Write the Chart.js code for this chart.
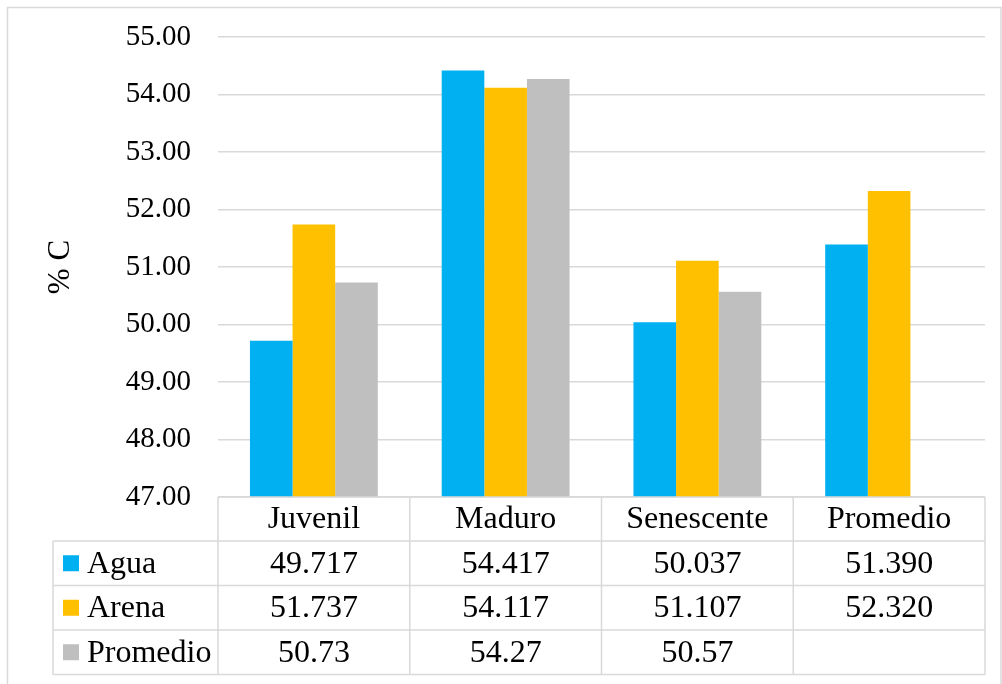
<!DOCTYPE html>
<html>
<head>
<meta charset="utf-8">
<script src="https://cdn.jsdelivr.net/npm/chart.js@4/dist/chart.umd.min.js"></script>
<style>
  html, body { margin: 0; padding: 0; background: #ffffff; }
  #wrap { width: 1002px; height: 684px; }
</style>
</head>
<body>
<div id="wrap"><canvas id="carbon-chart" width="1002" height="684"></canvas></div>
<script>
const categories = ["Juvenil", "Maduro", "Senescente", "Promedio"];
const seriesNames = ["Agua", "Arena", "Promedio"];
const aguaValues = [49.717, 54.417, 50.037, 51.390];
const arenaValues = [51.737, 54.117, 51.107, 52.320];
const promedioValues = [50.73, 54.27, 50.57, null];
const tableDecimals = [3, 3, 2];
const yTicks = [47, 48, 49, 50, 51, 52, 53, 54, 55];

const palette = {
  agua: "#00b0f0",
  arena: "#ffc000",
  promedio: "#bfbfbf",
  line: "#d9d9d9",
  text: "#000000",
};

const serif = "'Liberation Serif', 'Times New Roman', serif";
const tickSize = 29;
const tableSize = 32;
const titleSize = 31;

// data table under the plot: header row of categories, one row per series
const dataTablePlugin = {
  id: "dataTable",
  afterDraw(chart) {
    const ctx = chart.ctx;
    const area = chart.chartArea;
    const xScale = chart.scales.x;
    const half = (area.right - area.left) / categories.length / 2;
    const headerBottom = area.bottom + 44;
    const rowHeight = 44.5;
    const legendLeft = 53;
    const rows = chart.data.datasets;
    const tableBottom = headerBottom + rowHeight * rows.length;

    ctx.save();

    // outer chart frame
    ctx.strokeStyle = palette.line;
    ctx.lineWidth = 1.5;
    ctx.strokeRect(7.5, 7.5, 993.5, 700);

    // grid lines of the table
    ctx.beginPath();
    ctx.moveTo(area.left, area.bottom);
    ctx.lineTo(area.right, area.bottom);
    for (let r = 0; r <= rows.length; r++) {
      const y = headerBottom + rowHeight * r;
      ctx.moveTo(legendLeft, y);
      ctx.lineTo(area.right, y);
    }
    ctx.moveTo(legendLeft, headerBottom);
    ctx.lineTo(legendLeft, tableBottom);
    categories.forEach(function (cat, i) {
      const x = xScale.getPixelForValue(i) - half;
      ctx.moveTo(x, area.bottom);
      ctx.lineTo(x, tableBottom);
    });
    ctx.moveTo(area.right, area.bottom);
    ctx.lineTo(area.right, tableBottom);
    ctx.stroke();

    ctx.fillStyle = palette.text;
    ctx.font = tableSize + "px " + serif;
    ctx.textBaseline = "middle";
    ctx.textAlign = "center";

    categories.forEach(function (cat, i) {
      ctx.fillText(cat, xScale.getPixelForValue(i), (area.bottom + headerBottom) / 2 + 1);
    });

    rows.forEach(function (ds, r) {
      const yMid = headerBottom + rowHeight * r + rowHeight / 2 + 1;

      ctx.fillStyle = ds.backgroundColor;
      ctx.fillRect(legendLeft + 10, yMid - 9, 16, 16);

      ctx.fillStyle = palette.text;
      ctx.textAlign = "left";
      ctx.fillText(ds.label, legendLeft + 34, yMid);

      ctx.textAlign = "center";
      ds.data.forEach(function (v, i) {
        if (v === null) {
          return;
        }
        ctx.fillText(v.toFixed(tableDecimals[r]), xScale.getPixelForValue(i), yMid);
      });
    });

    ctx.restore();
  },
};

new Chart(document.getElementById("carbon-chart"), {
  type: "bar",
  data: {
    labels: categories,
    datasets: [
      { label: seriesNames[0], data: aguaValues, backgroundColor: palette.agua },
      { label: seriesNames[1], data: arenaValues, backgroundColor: palette.arena },
      { label: seriesNames[2], data: promedioValues, backgroundColor: palette.promedio },
    ],
  },
  options: {
    responsive: false,
    animation: false,
    devicePixelRatio: 1,
    layout: {
      padding: { top: 37, right: 17, bottom: 0, left: 0 },
    },
    datasets: {
      bar: {
        categoryPercentage: 3 / 4.5,
        barPercentage: 1,
        borderWidth: 0,
      },
    },
    plugins: {
      legend: { display: false },
      tooltip: { enabled: false },
    },
    scales: {
      x: {
        grid: { display: false },
        border: { display: false },
        ticks: { display: false },
        afterFit(scale) {
          scale.height = 187;
          scale.paddingLeft = 0;
          scale.paddingRight = 0;
        },
      },
      y: {
        min: yTicks[0],
        max: yTicks[yTicks.length - 1],
        afterBuildTicks(scale) {
          scale.ticks = yTicks.map(function (v) {
            return { value: v };
          });
        },
        grid: {
          color: palette.line,
          lineWidth: 1.5,
          drawTicks: false,
        },
        border: { display: false },
        ticks: {
          color: palette.text,
          padding: 27,
          font: { family: serif, size: tickSize },
          callback(value) {
            return Number(value).toFixed(2);
          },
        },
        title: {
          display: true,
          text: "% C",
          color: palette.text,
          font: { family: serif, size: titleSize },
          padding: { top: 42, bottom: 0 },
        },
        afterFit(scale) {
          scale.width = 218;
          scale.paddingTop = 0;
          scale.paddingBottom = 0;
        },
      },
    },
  },
  plugins: [dataTablePlugin],
});
</script>
</body>
</html>
